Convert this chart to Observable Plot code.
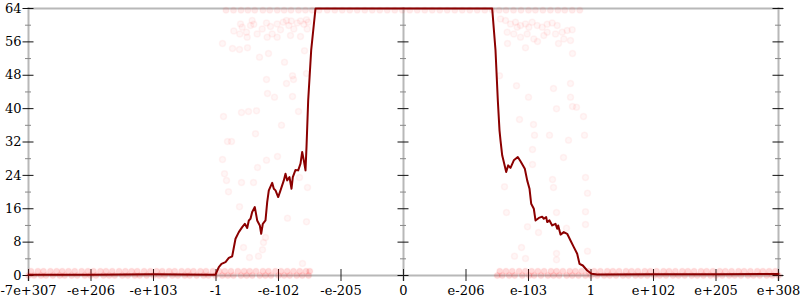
<!DOCTYPE html>
<html><head><meta charset="utf-8">
<script src="https://cdn.jsdelivr.net/npm/d3@7"></script>
<script src="https://cdn.jsdelivr.net/npm/@observablehq/plot@0.6"></script>
<style>body{margin:0;background:#fff}</style>
</head><body><div id="chart"></div>
<script>
// x positions are in "tick index" space: each tick label is one unit apart
const xTickPos = [-6,-5,-4,-3,-2,-1,0,1,2,3,4,5,6];
const xTickLabels = ["-7e+307","-e+206","-e+103","-1","-e-102","-e-205","0","e-206","e-103","1","e+102","e+205","e+308"];
const yMajor = [0,8,16,24,32,40,48,56,64];
const yMinor = [4,12,20,28,36,44,52,60];

// main line
const lineU = [-6,-5,-4,-3.05,-3.008,-2.955,-2.912,-2.848,-2.795,-2.741,-2.688,-2.635,-2.581,-2.539,-2.501,-2.475,-2.448,-2.421,-2.379,-2.341,-2.299,-2.277,-2.251,-2.208,-2.181,-2.155,-2.101,-2.075,-2.048,-2.005,-1.968,-1.915,-1.888,-1.861,-1.824,-1.792,-1.771,-1.728,-1.685,-1.648,-1.621,-1.595,-1.568,-1.552,-1.525,-1.477,-1.408,1.419,1.472,1.509,1.536,1.552,1.579,1.605,1.643,1.675,1.712,1.765,1.829,1.872,1.941,1.979,2.016,2.043,2.085,2.112,2.165,2.219,2.245,2.283,2.299,2.336,2.379,2.432,2.459,2.475,2.512,2.565,2.619,2.672,2.725,2.779,2.816,2.869,2.939,3.008,3.099,4,5,6];
const lineV = [0.2,0.2,0.3,0.2,0.2,2.0,2.8,3.2,4.2,4.6,8.8,10.4,11.6,12.4,11.4,13.2,13.6,15.2,16.4,13.2,12.0,10.0,12.4,13.2,17.6,20.4,22.2,20.8,20.4,18.8,20.4,22.8,24.4,22.8,23.6,20.8,23.6,25.3,25.2,26.8,29.6,27.6,25.2,30.8,42,54,64,64,54,42,34.8,32.4,28.8,27.2,24.8,26.4,25.8,27.6,28.4,27.4,25.6,22.8,20.8,17.2,16.0,13.2,13.8,14.1,13.6,14.0,12.8,13.2,12.0,12.4,11.2,12.0,9.8,10.4,10.0,8.4,6.8,5.2,2.8,2.4,1.2,0.4,0.25,0.3,0.3,0.35];

// dense bands of points near 0
const bandLow0U = [-6.00,-5.91,-5.80,-5.72,-5.61,-5.50,-5.42,-5.31,-5.22,-5.10,-5.01,-4.92,-4.80,-4.71,-4.62,-4.50,-4.41,-4.30,-4.22,-4.11,-4.00,-3.91,-3.82,-3.70,-3.61,-3.50,-3.42,-3.31,-3.20,-3.12,-3.01,-2.90,-2.81,-2.72,-2.60,-2.51,-2.42,-2.30,-2.21,-2.12,-2.00,-1.91,-1.82,-1.71,-1.62,-1.52,
  1.50,1.58,1.69,1.78,1.90,2.01,2.09,2.20,2.31,2.40,2.49,2.61,2.70,2.80,2.91,3.00,3.10,3.21,3.30,3.40,3.51,3.60,3.71,3.80,3.90,4.01,4.10,4.20,4.31,4.40,4.50,4.61,4.70,4.80,4.91,5.00,5.10,5.21,5.30,5.40,5.51,5.60,5.70,5.81,5.90,6.00];
const bandLow1U = [-5.96,-5.85,-5.76,-5.65,-5.55,-5.46,-5.36,-5.26,-5.15,-5.05,-4.96,-4.85,-4.76,-4.66,-4.55,-4.45,-4.35,-4.26,-4.15,-4.05,-3.95,-3.86,-3.75,-3.66,-3.55,-3.45,-3.36,-3.25,-3.16,-3.05,-2.95,-2.86,-2.76,-2.65,-2.55,-2.46,-2.36,-2.25,-2.16,-2.05,-1.96,-1.86,-1.76,-1.66,-1.56,-1.50,
  1.54,1.64,1.74,1.85,1.95,2.05,2.15,2.25,2.36,2.45,2.55,2.66,2.75,2.85,2.96,3.05,3.15,3.26,3.35,3.45,3.56,3.65,3.75,3.86,3.95,4.05,4.16,4.25,4.35,4.46,4.55,4.65,4.76,4.85,4.95,5.06,5.15,5.25,5.36,5.45,5.55,5.66,5.75,5.85,5.95];
// dense band near 64
const bandTopU = [-2.84,-2.72,-2.60,-2.49,-2.38,-2.25,-2.14,-2.02,-1.91,-1.80,-1.68,-1.57,-1.46,-1.35,-1.22,-1.10,-0.98,-0.86,-0.74,-0.62,-0.50,-0.38,-0.26,-0.14,-0.02,0.10,0.22,0.34,0.46,0.58,0.70,0.82,0.94,1.06,1.18,1.30,1.42,1.53,1.64,1.76,1.88,2.00,2.11,2.23,2.35,2.47,2.58,2.70,2.82];
// scattered points [u, value]
const scatterU = [-2.715,-2.619,-2.581,-2.512,-2.448,-2.395,-2.341,-2.261,-2.192,-2.128,-2.101,-2.021,-1.968,-1.925,-1.872,-1.835,-1.797,-1.755,-1.701,-1.648,-1.595,-1.552,-1.541,-1.525,-2.501,-2.181,-2.021,-1.808,-1.648,-2.421,-2.608,
  1.552,1.632,1.712,1.792,1.872,1.952,2.005,2.059,2.139,2.219,2.299,2.379,2.459,2.539,2.619,2.699,1.659,1.765,1.872,1.979,2.085,2.245,2.432,2.565,2.672,1.819,2.299,
  -2.896,-2.736,-2.624,-2.496,-2.304,-2.16,-1.904,-1.584,-2.192,-1.872,-1.76,-1.776,-1.552,-2.176,-2.064,-1.776,-2.88,-2.592,-2.48,-2.352,-1.68,-1.952,-2.368,-2.816,-2.752,-2.896,-2.864,-2.832,-2.592,-2.4,-2.336,-2.192,-2.016,-2.8,-2.624,-1.856,-1.552,-1.536,-1.664,-2.208,-2.24,-2.56,-2.256,-2.464,-2.32,-1.616,
  1.664,1.952,2.144,2.48,2.704,1.536,1.808,2.4,2.672,2.0,2.672,2.448,2.704,2.768,2.88,1.856,2.08,2.096,2.336,2.64,2.896,2.064,2.064,2.56,1.616,2.384,2.4,2.912,2.944,1.648,2.448,2.912,1.984,2.16,2.608,2.912,1.888,1.776,1.952,2.448,2.448,2.944];
const scatterV = [58.6,57.9,59.5,58.3,59.9,60.2,57.9,59.1,60.5,59.7,57.9,60.3,58.9,60.7,61.1,59.9,61.0,59.1,60.5,61.0,60.2,61.3,59.1,60.7,57.1,57.1,57.1,57.5,57.3,61.1,60.3,
  61.5,61.1,60.3,60.7,59.9,60.3,59.5,60.7,59.9,59.5,60.2,60.5,59.9,58.3,58.7,58.9,58.3,57.9,57.1,57.9,56.7,57.5,57.9,56.7,56.3,59.5,58.3,
  55.6,54.4,54.2,54.6,52.3,53.2,51.1,53.9,47.0,46.0,47.0,47.9,48.4,43.6,42.7,42.9,38.1,39.1,39.3,39.5,39.3,36.0,34.0,32.1,32.1,27.8,24.4,22.8,22.3,22.3,25.9,27.6,28.5,20.1,16.5,13.7,12.9,21.1,23.5,9.1,7.9,6.7,6.2,4.3,4.6,2.9,
  55.6,54.6,56.1,55.6,53.2,47.9,45.5,44.8,46.0,42.7,42.7,40.0,40.5,40.3,38.1,37.4,36.2,33.6,33.6,32.4,33.6,30.2,26.6,28.3,21.3,23.0,21.1,23.5,19.7,15.1,15.1,15.3,11.7,10.3,11.3,12.2,6.7,4.6,4.1,5.3,3.8,5.8];

const lineData = lineU.map((u, i) => ({u, v: lineV[i]}));
const scatter = scatterU.map((u, i) => ({u, v: scatterV[i]}));
const bandLow = [
  ...bandLow0U.map(u => ({u, v: 0})),
  ...bandLow1U.map(u => ({u, v: 1}))
];
const bandTop = bandTopU.map(u => ({u, v: 63.6}));

const grey = "#b8b8b8";
const chart = Plot.plot({
  width: 800, height: 300,
  marginLeft: 28, marginRight: 22, marginTop: 8, marginBottom: 25,
  x: {domain: [-6, 6], axis: null},
  y: {domain: [0, 64], axis: null},
  style: {fontFamily: "DejaVu Serif", fontSize: "13px", background: "white"},
  marks: [
    // axis frame lines
    Plot.ruleX([-6, 0, 6], {x: d => d, y1: 64, y2: 0, insetTop: -1, insetBottom: -6, stroke: grey, strokeWidth: 2}),
    Plot.ruleY([0, 64], {y: d => d, x1: -6, x2: 6, insetRight: -5, stroke: grey, strokeWidth: 2}),
    // y ticks on three axes
    ...[-6, 0, 6].map(ax => Plot.ruleY(yMinor, {y: d => d, x1: ax, x2: ax, insetLeft: -3, insetRight: -3, stroke: "#888", strokeWidth: 1})),
    ...[-6, 0, 6].map(ax => Plot.ruleY(yMajor, {y: d => d, x1: ax, x2: ax, insetLeft: -5.5, insetRight: -5.5, stroke: "#111", strokeWidth: 1})),
    // x ticks
    Plot.ruleX(xTickPos, {x: d => d, y1: 0, y2: 0, insetTop: -6, insetBottom: -6, stroke: "#222", strokeWidth: 1}),
    // points
    Plot.dot(bandLow, {x: "u", y: "v", r: 3, fill: "red", fillOpacity: 0.15, stroke: "red", strokeOpacity: 0.04}),
    Plot.dot(bandTop, {x: "u", y: "v", r: 3, fill: "red", fillOpacity: 0.08, stroke: "red", strokeOpacity: 0.03}),
    Plot.dot(scatter, {x: "u", y: "v", r: 3, fill: "red", fillOpacity: 0.035, stroke: "red", strokeOpacity: 0.045}),
    // line
    Plot.line(lineData, {x: "u", y: "v", stroke: "#8b0000", strokeWidth: 2}),
    // labels
    Plot.text(yMajor, {x: -6, y: d => d, text: d => String(d), textAnchor: "end", dx: -7, fill: "black"}),
    Plot.text(xTickPos, {x: d => d, y: 0, text: (d, i) => xTickLabels[i], dy: 15, fill: "black"})
  ]
});
document.getElementById("chart").appendChild(chart);
</script>
</body></html>
